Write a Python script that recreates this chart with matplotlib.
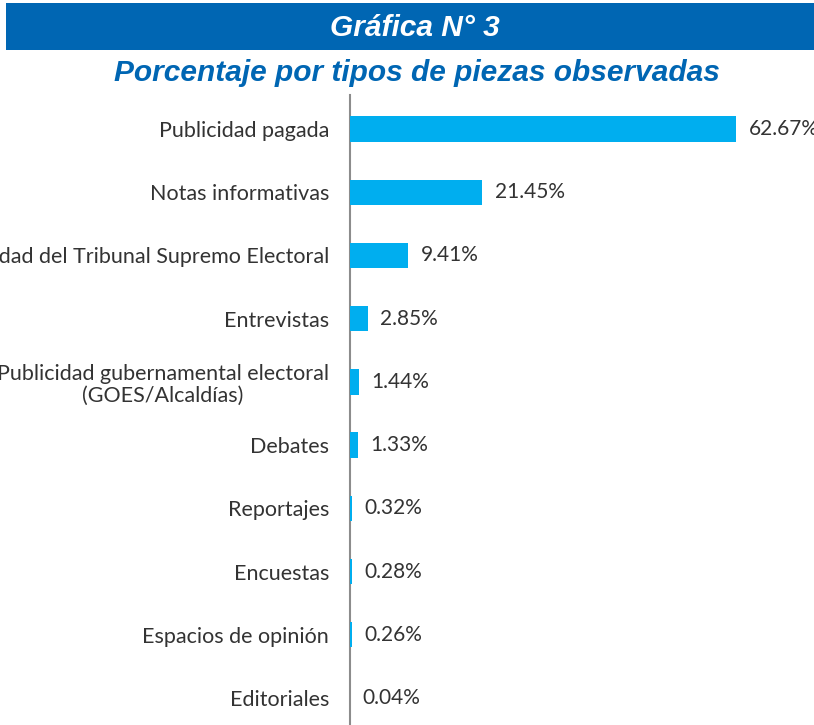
import matplotlib
matplotlib.use("Agg")
import matplotlib.pyplot as plt
from matplotlib.patches import Rectangle

categories = [
    "Publicidad pagada",
    "Notas informativas",
    "Publicidad del Tribunal Supremo Electoral",
    "Entrevistas",
    "Publicidad gubernamental electoral\n(GOES/Alcaldías)",
    "Debates",
    "Reportajes",
    "Encuestas",
    "Espacios de opinión",
    "Editoriales",
]
values = [62.67, 21.45, 9.41, 2.85, 1.44, 1.33, 0.32, 0.28, 0.26, 0.04]
value_labels = ["62.67%", "21.45%", "9.41%", "2.85%", "1.44%", "1.33%", "0.32%", "0.28%", "0.26%", "0.04%"]

W, H = 814, 725
fig = plt.figure(figsize=(W / 100, H / 100), dpi=100)
fig.patch.set_facecolor("white")

# Banner
fig.patches.append(Rectangle((6 / W, 1 - 50 / H), 1 - 6 / W, 47 / H, transform=fig.transFigure,
                             facecolor="#0066B3", edgecolor="none"))
title_font = ["Liberation Sans Narrow", "Liberation Sans", "DejaVu Sans"]
fig.text(415 / W, 1 - 28 / H, "Gráfica N° 3", ha="center", va="center", color="white",
         fontsize=21.5, fontweight="bold", fontstyle="italic", family=title_font)
fig.text(417 / W, 1 - 73 / H, "Porcentaje por tipos de piezas observadas", ha="center", va="center",
         color="#0066B3", fontsize=21.5, fontweight="bold", fontstyle="italic", family=title_font)

ax_left, ax_top, ax_bottom = 350, 95, 725
ax = fig.add_axes([ax_left / W, 1 - ax_bottom / H, (W - ax_left) / W, (ax_bottom - ax_top) / H])
px_per_unit = 6.16
ax.set_xlim(0, (W - ax_left) / px_per_unit)
row = 63.2
ax.set_ylim(9 + 27 / row, -34 / row)

y = list(range(len(categories)))
ax.barh(y, values, height=0.4, color="#00AEEF", edgecolor="none", zorder=3)
for yi, v, lab in zip(y, values, value_labels):
    ax.annotate(lab, (v, yi), xytext=(9, 0), textcoords="offset points", va="center", ha="left",
                fontsize=15, color="#333333", family=["Lato", "DejaVu Sans"])

ax.set_yticks(y)
ax.set_yticklabels(categories, fontsize=15.5, color="#333333", family=["Lato", "DejaVu Sans"],
                   multialignment="center", linespacing=1.1)
ax.tick_params(axis="y", length=0, pad=15)
ax.set_xticks([])
for s in ["top", "right", "bottom"]:
    ax.spines[s].set_visible(False)
ax.spines["left"].set_color("#8c8c8c")
ax.spines["left"].set_linewidth(1.5)
ax.spines["left"].set_zorder(1)

fig.savefig("out.png", dpi=100)
